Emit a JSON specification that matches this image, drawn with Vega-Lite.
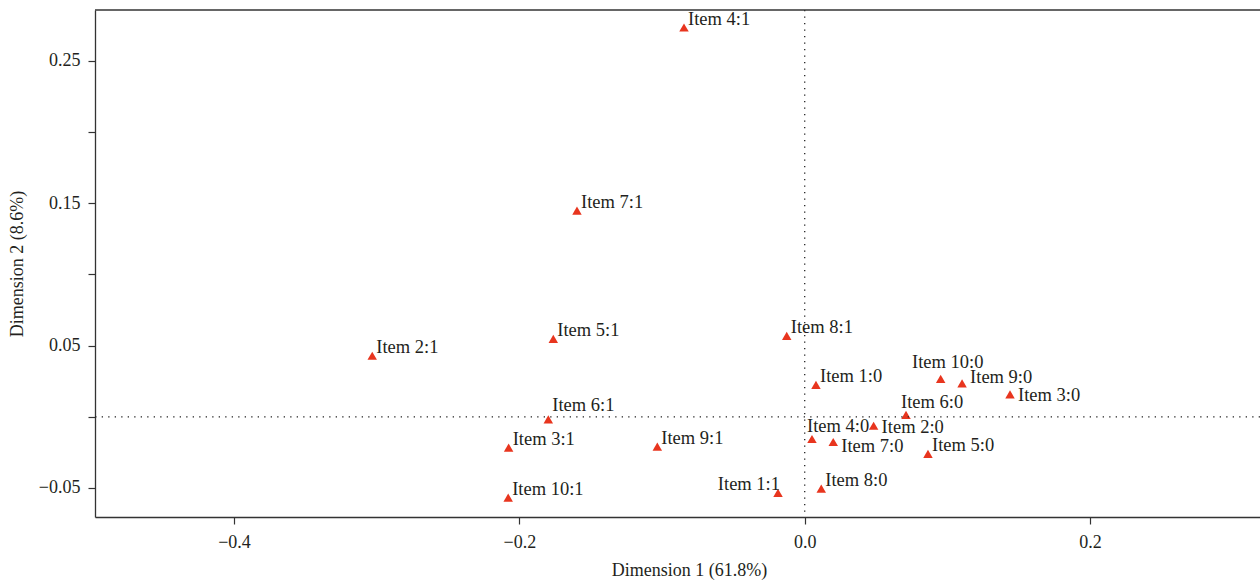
{
  "$schema": "https://vega.github.io/schema/vega-lite/v6.json",
  "width": 1165,
  "height": 507,
  "autosize": {"type": "none"},
  "padding": {"left": 95, "top": 10, "right": 0, "bottom": 64},
  "background": "white",
  "config": {
    "view": {"stroke": null},
    "font": "Liberation Serif",
    "axis": {
      "labelFont": "Liberation Serif",
      "titleFont": "Liberation Serif",
      "labelFontSize": 18,
      "titleFontSize": 18,
      "titleFontWeight": "normal",
      "labelColor": "#231f20",
      "titleColor": "#231f20",
      "domain": true,
      "domainColor": "#333333",
      "domainWidth": 1.3,
      "tickColor": "#333333",
      "tickWidth": 1.2,
      "tickSize": 7,
      "grid": false
    }
  },
  "data": {
    "values": [
      {"label": "Item 1:0", "dim1": 0.0079, "dim2": 0.0225},
      {"label": "Item 2:0", "dim1": 0.0483, "dim2": -0.0063},
      {"label": "Item 3:0", "dim1": 0.1439, "dim2": 0.0158},
      {"label": "Item 4:0", "dim1": 0.0051, "dim2": -0.0156},
      {"label": "Item 5:0", "dim1": 0.0864, "dim2": -0.0261},
      {"label": "Item 6:0", "dim1": 0.0710, "dim2": 0.0013},
      {"label": "Item 7:0", "dim1": 0.0200, "dim2": -0.0177},
      {"label": "Item 8:0", "dim1": 0.0116, "dim2": -0.0505},
      {"label": "Item 9:0", "dim1": 0.1103, "dim2": 0.0235},
      {"label": "Item 10:0", "dim1": 0.0953, "dim2": 0.0266},
      {"label": "Item 1:1", "dim1": -0.0187, "dim2": -0.0535},
      {"label": "Item 2:1", "dim1": -0.3031, "dim2": 0.0429},
      {"label": "Item 3:1", "dim1": -0.2075, "dim2": -0.0217},
      {"label": "Item 4:1", "dim1": -0.0846, "dim2": 0.2735},
      {"label": "Item 5:1", "dim1": -0.1762, "dim2": 0.0547},
      {"label": "Item 6:1", "dim1": -0.1797, "dim2": -0.0018},
      {"label": "Item 7:1", "dim1": -0.1596, "dim2": 0.1448},
      {"label": "Item 8:1", "dim1": -0.0126, "dim2": 0.0568},
      {"label": "Item 9:1", "dim1": -0.1033, "dim2": -0.0210},
      {"label": "Item 10:1", "dim1": -0.2078, "dim2": -0.0568}
    ]
  },
  "layer": [
    {
      "mark": {"type": "point", "shape": "triangle-up", "filled": true, "color": "#e8351e", "opacity": 1, "size": 90},
      "encoding": {
        "x": {"field": "dim1", "type": "quantitative", "scale": {"domain": [-0.4974, 0.3191], "nice": false, "zero": false},
          "axis": {"title": "Dimension 1 (61.8%)", "values": [-0.4, -0.2, 0, 0.2], "format": ".1f", "labelPadding": 9, "titlePadding": 10, "titleX": 594}},
        "y": {"field": "dim2", "type": "quantitative", "scale": {"domain": [-0.0704, 0.2858], "nice": false, "zero": false},
          "axis": {"title": "Dimension 2 (8.6%)", "values": [-0.05, 0, 0.05, 0.1, 0.15, 0.2, 0.25], "format": ".2f",
            "labelExpr": "(round(datum.value*100)+5) % 10 == 0 ? datum.label : ''", "labelPadding": 8, "titlePadding": 12}}
      }
    },
    {
      "data": {"values": [{}]},
      "mark": {"type": "rule", "color": "#222222", "strokeWidth": 1.3, "strokeDash": [1.3, 5.2]},
      "encoding": {"x": {"datum": 0, "type": "quantitative"}}
    },
    {
      "data": {"values": [{}]},
      "mark": {"type": "rule", "color": "#222222", "strokeWidth": 1.3, "strokeDash": [1.3, 5.2]},
      "encoding": {"y": {"datum": 0, "type": "quantitative"}}
    },
    {
      "data": {"values": [{}]},
      "mark": {"type": "rule", "color": "#333333", "strokeWidth": 1.3},
      "encoding": {"y": {"datum": 0.2858, "type": "quantitative"}}
    },
    {
      "transform": [{"filter": {"field": "label", "oneOf": ["Item 4:1", "Item 7:1", "Item 5:1", "Item 2:1", "Item 8:1", "Item 3:1", "Item 9:1", "Item 10:1", "Item 1:0", "Item 8:0", "Item 5:0"]}}],
      "mark": {"type": "text", "align": "left", "baseline": "alphabetic", "dx": 4, "dy": -3, "fontSize": 18.5, "color": "#231f20", "font": "Liberation Serif"},
      "encoding": {"x": {"field": "dim1", "type": "quantitative"}, "y": {"field": "dim2", "type": "quantitative"}, "text": {"field": "label"}}
    },
    {
      "transform": [{"filter": {"field": "label", "oneOf": ["Item 6:1"]}}],
      "mark": {"type": "text", "align": "left", "baseline": "alphabetic", "dx": 4, "dy": -8, "fontSize": 18.5, "color": "#231f20", "font": "Liberation Serif"},
      "encoding": {"x": {"field": "dim1", "type": "quantitative"}, "y": {"field": "dim2", "type": "quantitative"}, "text": {"field": "label"}}
    },
    {
      "transform": [{"filter": {"field": "label", "oneOf": ["Item 6:0", "Item 4:0"]}}],
      "mark": {"type": "text", "align": "left", "baseline": "alphabetic", "dx": -5, "dy": -7, "fontSize": 18.5, "color": "#231f20", "font": "Liberation Serif"},
      "encoding": {"x": {"field": "dim1", "type": "quantitative"}, "y": {"field": "dim2", "type": "quantitative"}, "text": {"field": "label"}}
    },
    {
      "transform": [{"filter": {"field": "label", "oneOf": ["Item 10:0"]}}],
      "mark": {"type": "text", "align": "center", "baseline": "alphabetic", "dx": 7, "dy": -11, "fontSize": 18.5, "color": "#231f20", "font": "Liberation Serif"},
      "encoding": {"x": {"field": "dim1", "type": "quantitative"}, "y": {"field": "dim2", "type": "quantitative"}, "text": {"field": "label"}}
    },
    {
      "transform": [{"filter": {"field": "label", "oneOf": ["Item 1:1"]}}],
      "mark": {"type": "text", "align": "right", "baseline": "alphabetic", "dx": 2, "dy": -3, "fontSize": 18.5, "color": "#231f20", "font": "Liberation Serif"},
      "encoding": {"x": {"field": "dim1", "type": "quantitative"}, "y": {"field": "dim2", "type": "quantitative"}, "text": {"field": "label"}}
    },
    {
      "transform": [{"filter": {"field": "label", "oneOf": ["Item 2:0", "Item 3:0"]}}],
      "mark": {"type": "text", "align": "left", "baseline": "alphabetic", "dx": 8, "dy": 7, "fontSize": 18.5, "color": "#231f20", "font": "Liberation Serif"},
      "encoding": {"x": {"field": "dim1", "type": "quantitative"}, "y": {"field": "dim2", "type": "quantitative"}, "text": {"field": "label"}}
    },
    {
      "transform": [{"filter": {"field": "label", "oneOf": ["Item 7:0"]}}],
      "mark": {"type": "text", "align": "left", "baseline": "alphabetic", "dx": 8, "dy": 10, "fontSize": 18.5, "color": "#231f20", "font": "Liberation Serif"},
      "encoding": {"x": {"field": "dim1", "type": "quantitative"}, "y": {"field": "dim2", "type": "quantitative"}, "text": {"field": "label"}}
    },
    {
      "transform": [{"filter": {"field": "label", "oneOf": ["Item 9:0"]}}],
      "mark": {"type": "text", "align": "left", "baseline": "alphabetic", "dx": 8, "dy": 0, "fontSize": 18.5, "color": "#231f20", "font": "Liberation Serif"},
      "encoding": {"x": {"field": "dim1", "type": "quantitative"}, "y": {"field": "dim2", "type": "quantitative"}, "text": {"field": "label"}}
    }
  ]
}
